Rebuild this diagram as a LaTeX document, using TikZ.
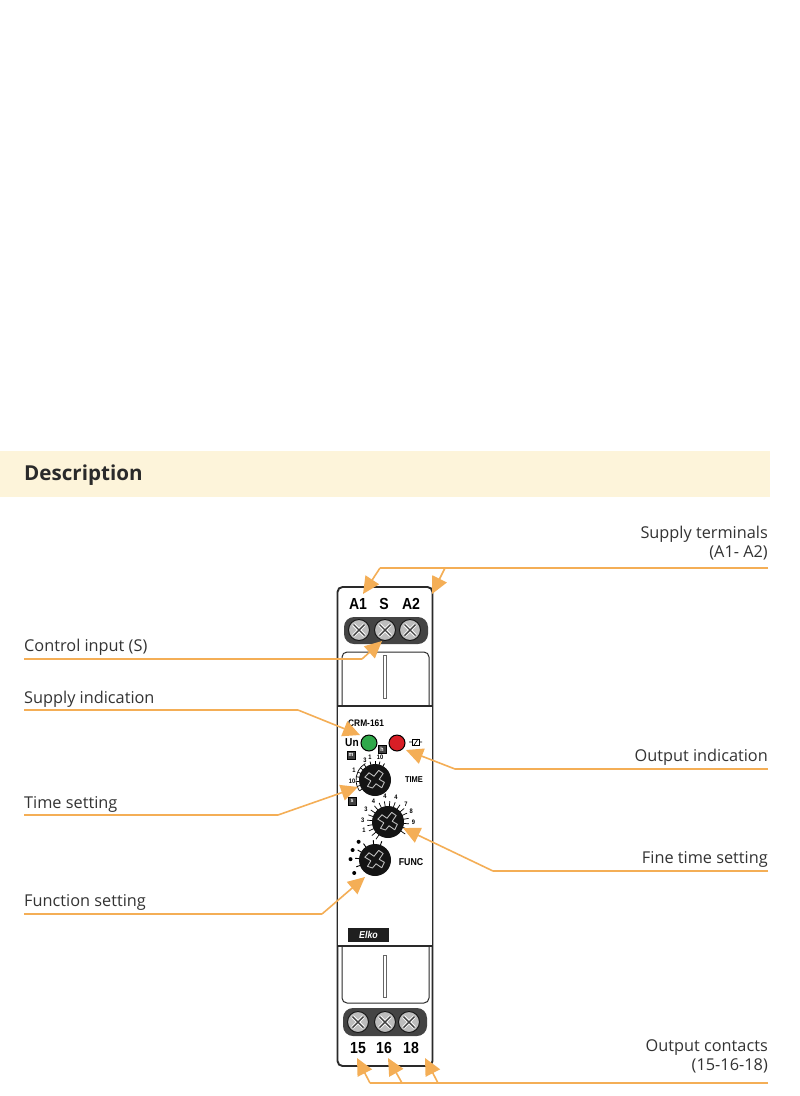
\documentclass[tikz,border=0pt]{standalone}
\usepackage{fontspec}
\setmainfont{Open Sans}
\newfontfamily\devfont[FakeStretch=0.88]{Liberation Sans}
\usetikzlibrary{arrows.meta,calc}
\definecolor{leader}{HTML}{F4AE56}
\definecolor{bandc}{HTML}{FDF4DA}
\definecolor{labelc}{HTML}{333333}
\definecolor{bodyc}{HTML}{2A2A2A}
\definecolor{blockc}{HTML}{444444}
\definecolor{screwc}{HTML}{BDBDBD}
\definecolor{ledg}{HTML}{2FA84A}
\definecolor{ledr}{HTML}{D81E26}
\tikzset{
  lbl/.style={font=\fontsize{16.3}{19}\selectfont,text=labelc,inner sep=0pt},
  lblr/.style={lbl,anchor=east,align=right},
  lbll/.style={lbl,anchor=west},
  devb/.style={font=\devfont\bfseries\fontsize{16}{16}\selectfont,text=black,inner sep=0pt},
  devs/.style={font=\devfont\bfseries\fontsize{9.5}{10}\selectfont,text=black,inner sep=0pt},
  dial/.style={font=\devfont\bfseries\fontsize{6.5}{6.5}\selectfont,text=black,inner sep=0pt},
  lead/.style={draw=leader,line width=1.6pt},
  leadtip/.style={lead,-{Triangle[length=17pt,width=16pt,fill=leader]}},
  outline/.style={draw=bodyc,line width=1.9pt},
  knob/.style={circle,fill=black!92,minimum size=32pt,inner sep=0pt},
  led/.style={circle,draw=black,line width=1pt,minimum size=16pt,inner sep=0pt},
  screw/.style={circle,draw=black!90,line width=1pt,fill=screwc,minimum size=21pt,inner sep=0pt},
  smallbox/.style={draw=black,line width=.8pt,fill=black!75,text=white,inner sep=1pt,font=\devfont\bfseries\fontsize{6}{6}\selectfont,minimum size=8pt},
}
\newcommand{\screwx}[1]{%
  \draw[white,line width=3.2pt] ($(#1)+(-5.5,-5.5)$) -- ($(#1)+(5.5,5.5)$) ($(#1)+(-5.5,5.5)$) -- ($(#1)+(5.5,-5.5)$);
  \draw[black!75,line width=1.4pt] ($(#1)+(-5.5,-5.5)$) -- ($(#1)+(5.5,5.5)$) ($(#1)+(-5.5,5.5)$) -- ($(#1)+(5.5,-5.5)$);}
\newcommand{\knobx}[1]{%
  \draw[screwc,line width=.9pt,line join=round,shift={(#1)},rotate=-35]
   (-2.5,-10) -- (3,-10) -- (3,-3) -- (9,-3.5) -- (10,2.5) -- (3,2.5) -- (2.5,8) -- (-2.5,9.5) -- (-3,3) -- (-10,3.5) -- (-9,-2.5) -- (-3,-2.5) -- cycle;}
\begin{document}
\begin{tikzpicture}[x=1pt,y=-1pt]
\useasboundingbox (0,0) rectangle (800,1096);
\fill[white] (0,0) rectangle (800,1096);
% header
\fill[bandc] (0,451) rectangle (770,497);
\node[anchor=west,inner sep=0pt,text=bodyc,font=\bfseries\fontsize{20.6}{24}\selectfont] (title) at (24,475) {Description};

% device body
\draw[outline,rounded corners=5pt,fill=white] (337.5,587) rectangle (432.5,1066);
\draw[draw=bodyc,line width=1pt,rounded corners=5pt] (342,706) -- (342,652) -- (429,652) -- (429,706);
\draw[draw=bodyc,line width=1pt,rounded corners=5pt] (342,946) -- (342,1003) -- (429,1003) -- (429,946);
\draw[draw=black!60,line width=.9pt,fill=white] (383,655) rectangle (386,698);
\draw[draw=black!60,line width=.9pt,fill=white] (383,955) rectangle (386,997);
\draw[outline,fill=white] (337.5,706) rectangle (432.5,946);

% top terminals
\fill[blockc,rounded corners=10pt] (344,617) rectangle (428,644);
\node[screw] (st1) at (359,630) {}; \screwx{st1}
\node[screw] (st2) at (385,630) {}; \screwx{st2}
\node[screw] (st3) at (410,630) {}; \screwx{st3}
\node[devb] (a1) at (358,604) {A1};
\node[devb] (s)  at (384,604) {S};
\node[devb] (a2) at (411,604) {A2};

% bottom terminals
\fill[blockc,rounded corners=10pt] (343,1008) rectangle (427,1036);
\node[screw] (sb1) at (358,1022) {}; \screwx{sb1}
\node[screw] (sb2) at (385,1022) {}; \screwx{sb2}
\node[screw] (sb3) at (409,1022) {}; \screwx{sb3}
\node[devb] (t15) at (358,1048) {15};
\node[devb] (t16) at (384,1048) {16};
\node[devb] (t18) at (411,1048) {18};

% panel
\node[devs,anchor=west] (model) at (348,723) {CRM-161};
\node[devs,anchor=west,font=\devfont\bfseries\fontsize{11.5}{12}\selectfont] (un) at (345,743) {Un};
\node[led,fill=ledg] (ledgreen) at (369,743) {};
\node[led,fill=ledr] (ledred) at (397,743) {};
\draw[black,line width=.7pt,fill=white] (412,739) rectangle (419,745);
\draw[black,line width=.7pt] (409,742) -- (412,742) (419,742) -- (422,742) (414,745) -- (418,739);
\node[smallbox] (bm) at (351,755) {m};
\node[smallbox] (bh) at (382,749) {h};
\node[smallbox] (bs) at (352,801) {s};

% time dial
\draw[black,line width=.7pt] ($(375,780)+(-215:19)$) arc[start angle=215,end angle=120,radius=19pt];
\foreach \a in {125,140,155,170,185,200,215}
  \draw[black,line width=.7pt] ($(375,780)+(-\a:15)$) -- ($(375,780)+(-\a:19)$);
\foreach \a in {60,75,90,105}
  \draw[black,line width=.8pt] ($(375,780)+(-\a:15)$) -- ($(375,780)+(-\a:19)$);
\node[knob] (ktime) at (375,780) {}; \knobx{ktime}
\node[dial] at (354,770) {1};
\node[dial] at (352,781) {10};
\node[dial] at (365,760) {3};
\node[dial] at (370,757) {1};
\node[dial] at (380,757) {10};
\node[devs,font=\devfont\bfseries\fontsize{8.5}{8.5}\selectfont] (ttime) at (414,780) {TIME};

% fine dial
\foreach \a in {-35,-20,...,235}
  \draw[black,line width=.7pt] ($(388,822)+(-\a:15)$) -- ($(388,822)+(-\a:21)$);
\node[knob] (kfine) at (388,822) {}; \knobx{kfine}
\foreach \a/\t in {200/1,175/3,150/3,125/4,97/4,72/4,45/7,25/8,0/9}
  \node[dial] at ($(388,822)+(-\a:25.5)$) {\t};

% function dial
\foreach \a in {70,95,125,150,175,200}
  \draw[black,line width=.9pt] ($(375,860)+(-\a:15)$) -- ($(375,860)+(-\a:20)$);
\node[knob] (kfunc) at (375,860) {}; \knobx{kfunc}
\foreach \a in {132,156,178,212}
  \fill[black] ($(375,860)+(-\a:24.5)$) circle (2pt);
\node[devs,font=\devfont\bfseries\fontsize{10}{10}\selectfont] (tfunc) at (411,862) {FUNC};

% logo
\node[fill=black!88,text=white,minimum width=41pt,minimum height=14pt,inner sep=0pt,
      font=\devfont\bfseries\itshape\fontsize{10}{10}\selectfont] (logo) at (368.5,935) {Elko};

% labels
\node[lblr,align=right] (lsupply) at (768,543) {Supply terminals\\(A1- A2)};
\node[lbll] (lcontrol) at (24,647) {Control input (S)};
\node[lbll] (lsind) at (24,699) {Supply indication};
\node[lbll] (ltime) at (24,804) {Time setting};
\node[lbll] (lfunc) at (24,902) {Function setting};
\node[lblr] (loind) at (768,757) {Output indication};
\node[lblr] (lfine) at (768,859) {Fine time setting};
\node[lblr] (lout) at (768,1056) {Output contacts\\(15-16-18)};

% leaders
\coordinate (e1) at (768,568);
\coordinate (j1) at (445,568);
\coordinate (k1) at (380,568);
\coordinate (t1) at (363,594);
\coordinate (t2) at (432,594);
\draw[lead] (e1) -- (k1);
\draw[leadtip] (k1) -- (t1);
\draw[leadtip] (j1) -- (t2);

\coordinate (e2) at (24,659);
\coordinate (k2) at (362,659);
\coordinate (t3) at (382,641);
\draw[lead] (e2) -- (k2);
\draw[leadtip] (k2) -- (t3);

\coordinate (e3) at (24,710);
\coordinate (k3) at (298,710);
\coordinate (t4) at (360,735);
\draw[lead] (e3) -- (k3);
\draw[leadtip] (k3) -- (t4);

\coordinate (e4) at (768,769);
\coordinate (k4) at (455,769);
\coordinate (t5) at (406,750);
\draw[lead] (e4) -- (k4);
\draw[leadtip] (k4) -- (t5);

\coordinate (e5) at (24,815);
\coordinate (k5) at (278,815);
\coordinate (t6) at (358,787);
\draw[lead] (e5) -- (k5);
\draw[leadtip] (k5) -- (t6);

\coordinate (e6) at (768,871);
\coordinate (k6) at (493,871);
\coordinate (t7) at (403,828);
\draw[lead] (e6) -- (k6);
\draw[leadtip] (k6) -- (t7);

\coordinate (e7) at (24,914);
\coordinate (k7) at (322,914);
\coordinate (t8) at (365,877);
\draw[lead] (e7) -- (k7);
\draw[leadtip] (k7) -- (t8);

\coordinate (e8) at (768,1083);
\coordinate (k8) at (370,1083);
\coordinate (j8a) at (402,1083);
\coordinate (j8b) at (438,1083);
\coordinate (t9) at (357,1058);
\coordinate (t10) at (388,1058);
\coordinate (t11) at (425,1058);
\draw[lead] (e8) -- (k8);
\draw[leadtip] (k8) -- (t9);
\draw[leadtip] (j8a) -- (t10);
\draw[leadtip] (j8b) -- (t11);
\end{tikzpicture}
\end{document}
